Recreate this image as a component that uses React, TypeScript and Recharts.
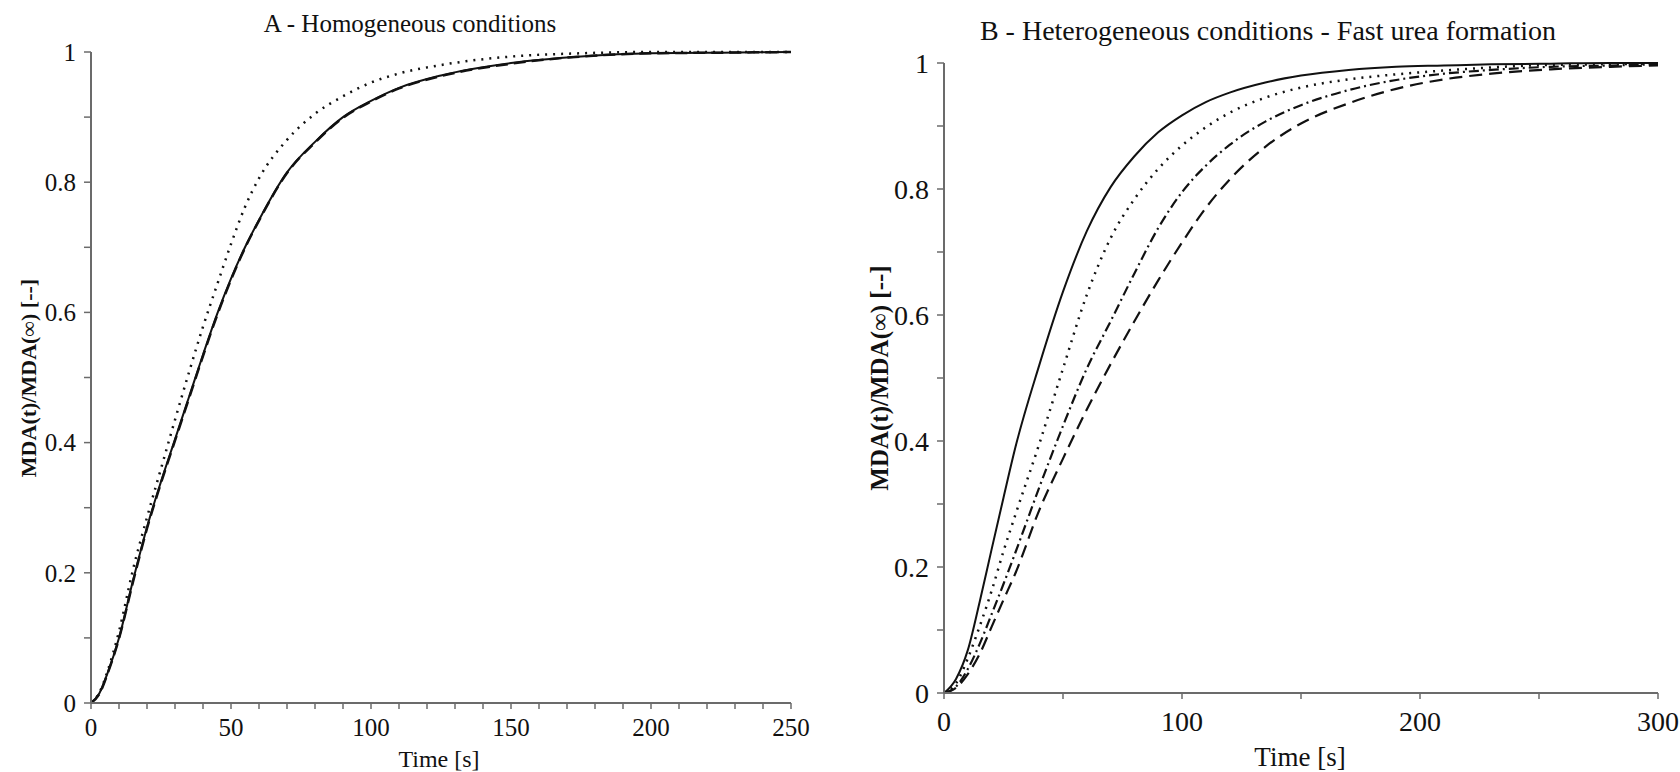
import { LineChart, Line, XAxis, YAxis } from 'recharts'

// Panel A - homogeneous conditions
const TIME_A = [0, 3, 6, 10, 15, 20, 25, 30, 35, 40, 45, 50, 55, 60, 70, 80, 90, 100, 110, 125, 150, 175, 200, 225, 250]
const SOLID_A = [0, 0.015, 0.047, 0.1, 0.188, 0.27, 0.34, 0.405, 0.47, 0.535, 0.597, 0.652, 0.7, 0.742, 0.815, 0.862, 0.9, 0.925, 0.945, 0.964, 0.983, 0.993, 0.998, 0.999, 1]
const DASHED_A = [0, 0.014, 0.046, 0.099, 0.186, 0.268, 0.338, 0.403, 0.468, 0.533, 0.595, 0.65, 0.699, 0.741, 0.814, 0.861, 0.899, 0.924, 0.944, 0.963, 0.982, 0.993, 0.998, 0.999, 1]
const DOTTED_A = [0, 0.016, 0.05, 0.11, 0.205, 0.285, 0.36, 0.435, 0.508, 0.578, 0.642, 0.705, 0.762, 0.806, 0.865, 0.905, 0.932, 0.953, 0.967, 0.98, 0.993, 0.998, 1, 1, 1]
const X_TICKS_A = [0, 10, 20, 30, 40, 50, 60, 70, 80, 90, 100, 110, 120, 130, 140, 150, 160, 170, 180, 190, 200, 210, 220, 230, 240, 250]

// Panel B - heterogeneous conditions, fast urea formation
const TIME_B = [0, 5, 10, 15, 20, 25, 30, 40, 50, 60, 70, 80, 90, 100, 110, 120, 135, 150, 170, 190, 210, 230, 255, 280, 300]
const SOLID_B = [0, 0.022, 0.068, 0.145, 0.228, 0.31, 0.39, 0.52, 0.637, 0.733, 0.803, 0.852, 0.89, 0.917, 0.938, 0.953, 0.969, 0.98, 0.989, 0.994, 0.996, 0.998, 0.999, 1, 1]
const DOTTED_B = [0, 0.015, 0.055, 0.106, 0.162, 0.225, 0.283, 0.395, 0.515, 0.632, 0.722, 0.784, 0.832, 0.869, 0.898, 0.921, 0.945, 0.961, 0.974, 0.982, 0.988, 0.993, 0.997, 0.998, 0.999]
const DASHDOT_B = [0, 0.01, 0.038, 0.078, 0.125, 0.173, 0.223, 0.326, 0.424, 0.515, 0.59, 0.666, 0.738, 0.795, 0.837, 0.87, 0.907, 0.933, 0.957, 0.973, 0.983, 0.989, 0.994, 0.996, 0.998]
const DASHED_B = [0, 0.008, 0.03, 0.062, 0.105, 0.148, 0.19, 0.29, 0.372, 0.45, 0.522, 0.59, 0.655, 0.715, 0.77, 0.815, 0.867, 0.904, 0.936, 0.959, 0.974, 0.983, 0.99, 0.994, 0.996]
const X_TICKS_B = [0, 50, 100, 150, 200, 250, 300]

const Y_TICKS = [0, 0.1, 0.2, 0.3, 0.4, 0.5, 0.6, 0.7, 0.8, 0.9, 1]

const dataA = TIME_A.map((t, i) => ({ t, solid: SOLID_A[i], dashed: DASHED_A[i], dotted: DOTTED_A[i] }))
const dataB = TIME_B.map((t, i) => ({ t, solid: SOLID_B[i], dotted: DOTTED_B[i], dashdot: DASHDOT_B[i], dashed: DASHED_B[i] }))

const FONT = 'Liberation Serif, DejaVu Serif, Times New Roman, serif'
const AXIS = '#6b6b6b'
const INK = '#111'

const yFmt = (v: number) => {
  const k = Math.round(v * 10)
  return k % 2 === 0 ? String(k / 10) : ''
}

export default function App() {
  return (
    <div style={{ position: 'absolute', left: 0, top: 0, width: 1680, height: 772, background: '#fff', fontFamily: FONT }}>
      {/* A */}
      <div style={{ position: 'absolute', left: 0, top: 0 }}>
        <LineChart width={840} height={772} data={dataA} margin={{ top: 52, right: 49, bottom: 39, left: 31 }}>
          <XAxis
            dataKey="t" type="number" domain={[0, 250]} ticks={X_TICKS_A} height={30}
            tickFormatter={(v: number) => (v % 50 === 0 ? String(v) : '')}
            axisLine={{ stroke: AXIS, strokeWidth: 2 }} tickLine={{ stroke: AXIS, strokeWidth: 1.5 }}
            tickSize={6} tickMargin={9} interval={0}
            tick={{ fill: INK, fontSize: 25, fontFamily: FONT }}
          />
          <YAxis
            type="number" domain={[0, 1]} ticks={Y_TICKS} width={60} tickFormatter={yFmt}
            axisLine={{ stroke: AXIS, strokeWidth: 2 }} tickLine={{ stroke: AXIS, strokeWidth: 1.5 }}
            tickSize={7} tickMargin={8} interval={0}
            tick={{ fill: INK, fontSize: 25, fontFamily: FONT }}
          />
          <Line type="monotone" dataKey="dotted" stroke={INK} strokeWidth={2.5} strokeDasharray="2 6" dot={false} isAnimationActive={false} />
          <Line type="monotone" dataKey="solid" stroke={INK} strokeWidth={2} dot={false} isAnimationActive={false} />
          <Line type="monotone" dataKey="dashed" stroke={INK} strokeWidth={2.5} strokeDasharray="12 6" dot={false} isAnimationActive={false} />
        </LineChart>
      </div>

      {/* B */}
      <div style={{ position: 'absolute', left: 840, top: 0 }}>
        <LineChart width={840} height={772} data={dataB} margin={{ top: 63, right: 22, bottom: 49, left: 44 }}>
          <XAxis
            dataKey="t" type="number" domain={[0, 300]} ticks={X_TICKS_B} height={30}
            tickFormatter={(v: number) => (v % 100 === 0 ? String(v) : '')}
            axisLine={{ stroke: AXIS, strokeWidth: 2 }} tickLine={{ stroke: AXIS, strokeWidth: 1.5 }}
            tickSize={6} tickMargin={12} interval={0}
            tick={{ fill: INK, fontSize: 28, fontFamily: FONT }}
          />
          <YAxis
            type="number" domain={[0, 1]} ticks={Y_TICKS} width={60} tickFormatter={yFmt}
            axisLine={{ stroke: AXIS, strokeWidth: 2 }} tickLine={{ stroke: AXIS, strokeWidth: 1.5 }}
            tickSize={7} tickMargin={8} interval={0}
            tick={{ fill: INK, fontSize: 28, fontFamily: FONT }}
          />
          <Line type="monotone" dataKey="solid" stroke={INK} strokeWidth={2} dot={false} isAnimationActive={false} />
          <Line type="monotone" dataKey="dotted" stroke={INK} strokeWidth={2.5} strokeDasharray="2 6" dot={false} isAnimationActive={false} />
          <Line type="monotone" dataKey="dashdot" stroke={INK} strokeWidth={2.2} strokeDasharray="10 4 2 4" dot={false} isAnimationActive={false} />
          <Line type="monotone" dataKey="dashed" stroke={INK} strokeWidth={2.2} strokeDasharray="13 7" dot={false} isAnimationActive={false} />
        </LineChart>
      </div>

      {/* titles and axis labels */}
      <svg width={1680} height={772} style={{ position: 'absolute', left: 0, top: 0, pointerEvents: 'none' }}>
        <g fontFamily={FONT} fill={INK}>
          <text x={410} y={32} fontSize={25} textAnchor="middle">A - Homogeneous conditions</text>
          <text x={1268} y={40} fontSize={28} textAnchor="middle">B - Heterogeneous conditions - Fast urea formation</text>
          <text x={439} y={767} fontSize={24} textAnchor="middle">Time [s]</text>
          <text x={1300} y={766} fontSize={27} textAnchor="middle">Time [s]</text>
          <text transform="translate(36,378) rotate(-90)" fontSize={22} fontWeight="bold" textAnchor="middle">
            MDA(t)/MDA(<tspan fontWeight="normal">∞</tspan>) [--]
          </text>
          <text transform="translate(888,378) rotate(-90)" fontSize={25} fontWeight="bold" textAnchor="middle">
            MDA(t)/MDA(<tspan fontWeight="normal">∞</tspan>) [--]
          </text>
        </g>
      </svg>
    </div>
  )
}
